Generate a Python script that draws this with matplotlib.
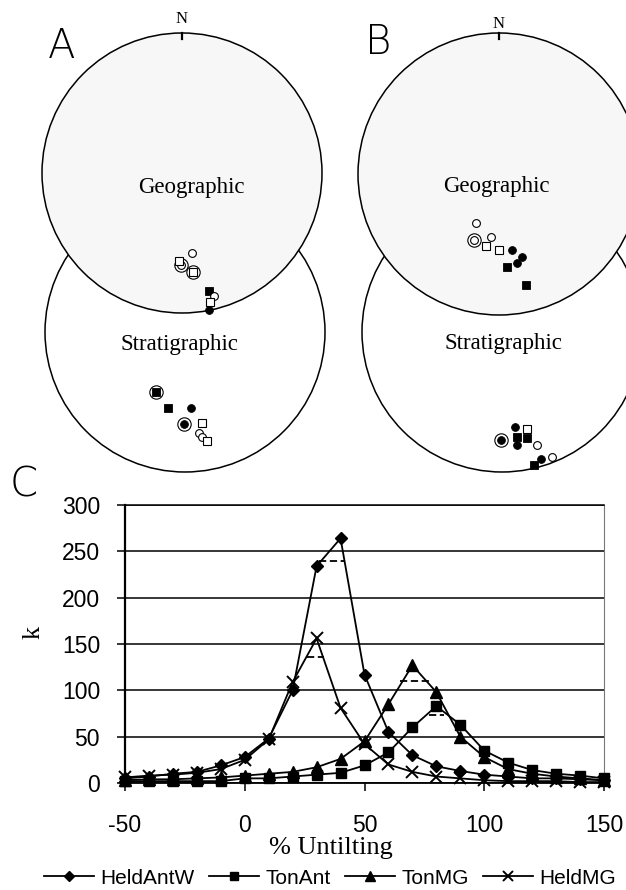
import matplotlib.pyplot as plt
from matplotlib.patches import Circle

plt.rcParams['axes.unicode_minus'] = False

# --- stereonet data (unit-circle coords, y up), symbol codes:
# fc filled circle, oc open circle, fs filled square, os open square, ring = mean ring
A_GEO_X = [0.07, -0.01, -0.01, 0.08, 0.08, -0.02, 0.19, 0.23, 0.20, 0.19]
A_GEO_Y = [-0.57, -0.66, -0.66, -0.71, -0.71, -0.63, -0.84, -0.88, -0.92, -0.98]
A_GEO_SYM = ['oc', 'ring', 'oc', 'ring', 'os', 'os', 'fs', 'oc', 'os', 'fc']

A_STR_X = [-0.21, -0.21, -0.12, 0.04, -0.01, -0.01, 0.12, 0.10, 0.12, 0.16]
A_STR_Y = [-0.43, -0.43, -0.54, -0.54, -0.66, -0.66, -0.65, -0.72, -0.75, -0.78]
A_STR_SYM = ['ring', 'fs', 'fs', 'fc', 'ring', 'fc', 'os', 'oc', 'oc', 'os']

B_GEO_X = [-0.16, -0.18, -0.18, -0.06, -0.09, 0.00, 0.09, 0.16, 0.13, 0.06, 0.19]
B_GEO_Y = [-0.35, -0.47, -0.47, -0.45, -0.51, -0.54, -0.54, -0.59, -0.63, -0.66, -0.79]
B_GEO_SYM = ['oc', 'ring', 'oc', 'oc', 'os', 'os', 'fc', 'fc', 'fc', 'fs', 'fs']

B_STR_X = [-0.01, -0.01, 0.09, 0.18, 0.11, 0.18, 0.11, 0.25, 0.28, 0.36, 0.23]
B_STR_Y = [-0.77, -0.77, -0.68, -0.69, -0.75, -0.76, -0.81, -0.81, -0.91, -0.89, -0.95]
B_STR_SYM = ['ring', 'fc', 'fc', 'os', 'fs', 'fs', 'fc', 'oc', 'fc', 'oc', 'fs']

# --- fold test curves
UNTILT = [-50, -40, -30, -20, -10, 0, 10, 20, 30, 40, 50,
          60, 70, 80, 90, 100, 110, 120, 130, 140, 150]
HELDANTW = [5, 7, 10, 12, 19, 28, 48, 100, 234, 264, 117,
            55, 30, 18, 13, 9, 7, 5, 5, 4, 3]
TONANT = [2, 2, 2, 2, 2, 5, 5, 7, 9, 11, 19,
          33, 60, 83, 63, 35, 22, 14, 10, 8, 5]
TONMG = [3, 4, 4, 5, 6, 8, 10, 12, 17, 26, 45,
         85, 127, 98, 50, 28, 15, 10, 7, 5, 3]
HELDMG = [6, 8, 9, 11, 15, 25, 47, 109, 156, 81, 42,
          20, 12, 7, 5, 3, 2, 2, 2, 1, 1]

# dashed peak levels (x start, x end, k)
PEAK_X0 = [31, 26, 65, 77]
PEAK_X1 = [42, 33, 78, 83]
PEAK_K = [240, 136, 110, 73]

W, H = 626, 890
fig = plt.figure(figsize=(W / 100, H / 100), dpi=100)

SYM_STYLE = {
    'fc': dict(marker='o', mfc='black', mec='black', ms=5.6, mew=0.6),
    'oc': dict(marker='o', mfc='white', mec='black', ms=5.6, mew=0.8),
    'fs': dict(marker='s', mfc='black', mec='black', ms=5.6, mew=0.6),
    'os': dict(marker='s', mfc='white', mec='black', ms=5.6, mew=0.8),
    'ring': dict(marker='o', mfc='white', mec='black', ms=9.6, mew=0.8),
}


def net(cx, cy, r, face, label, lx, ly, xs, ys, syms, north=None):
    ax = fig.add_axes([(cx - r) / W, 1 - (cy + r) / H, 2 * r / W, 2 * r / H])
    ax.set_xlim(-1, 1)
    ax.set_ylim(-1, 1)
    ax.set_axis_off()
    ax.add_patch(Circle((0, 0), 1, facecolor=face, edgecolor='black',
                        linewidth=1.1, clip_on=False))
    ax.text(lx, ly, label, ha='center', va='center', fontsize=16.5,
            family='Liberation Serif')
    if north is not None:
        ax.plot([0, 0], [1, 0.955], color='black', lw=1.6, clip_on=False)
        ax.text(0, north, 'N', ha='center', va='center', fontsize=12,
                family='Liberation Serif')
    # rings first so inner symbols sit on top
    for x, y, s in sorted(zip(xs, ys, syms), key=lambda t: t[2] != 'ring'):
        ax.plot([x], [y], linestyle='none', clip_on=False, **SYM_STYLE[s])
    return ax


# stratigraphic nets behind, geographic on top
net(185, 332, 140, 'white', 'Stratigraphic', -0.04, -0.09, A_STR_X, A_STR_Y, A_STR_SYM)
net(502, 332, 140, 'white', 'Stratigraphic', 0.01, -0.08, B_STR_X, B_STR_Y, B_STR_SYM)
net(182, 173, 140, '#f7f7f7', 'Geographic', 0.065, -0.105, A_GEO_X, A_GEO_Y, A_GEO_SYM, north=1.10)
net(499, 174, 141, '#f7f7f7', 'Geographic', -0.02, -0.09, B_GEO_X, B_GEO_Y, B_GEO_SYM, north=1.065)

# panel letters
for lbl, x, y in [('A', 62, 47), ('B', 378, 42), ('C', 24, 485)]:
    fig.text(x / W, 1 - y / H, lbl, ha='center', va='center', fontsize=29,
             family='DejaVu Sans', fontweight='light')

# --- panel C
ax = fig.add_axes([125 / W, 1 - 783 / H, 479 / W, 278 / H])
series = [
    (HELDANTW, 'HeldAntW', dict(marker='D', ms=6.5)),
    (TONANT, 'TonAnt', dict(marker='s', ms=7)),
    (TONMG, 'TonMG', dict(marker='^', ms=9)),
    (HELDMG, 'HeldMG', dict(marker='x', ms=8, mew=1.4)),
]
handles = []
for vals, name, mk in series:
    ln, = ax.plot(UNTILT, vals, color='black', lw=1.3, mfc='black', mec='black',
                  label=name, clip_on=False, zorder=3, **mk)
    handles.append(ln)

for x0, x1, k in zip(PEAK_X0, PEAK_X1, PEAK_K):
    ax.plot([x0, x1], [k, k], color='black', lw=1.3, ls=(0, (4, 2)), zorder=2)

ax.set_xlim(-50, 150)
ax.set_ylim(0, 300)
ax.set_xticks([-50, 0, 50, 100, 150])
ax.set_yticks([0, 50, 100, 150, 200, 250, 300])
ax.yaxis.grid(True, color='black', lw=1.1)
ax.set_axisbelow(True)
ax.tick_params(axis='both', direction='out', length=6, width=1.1,
               labelsize=16.5, labelfontfamily='Liberation Sans')
ax.tick_params(axis='x', pad=16)
ax.tick_params(axis='y', pad=12)
ax.spines['left'].set_linewidth(1.6)
ax.spines['bottom'].set_linewidth(1.3)
ax.spines['top'].set_color('black')
ax.spines['top'].set_linewidth(1.1)
ax.spines['right'].set_color('#777777')
ax.spines['right'].set_linewidth(0.8)

fig.text(331 / W, 1 - 848 / H, '% Untilting', ha='center', va='center',
         fontsize=19, family='Liberation Serif')
fig.text(34 / W, 1 - 632 / H, 'k', ha='center', va='center', rotation=90,
         fontsize=19, family='Liberation Serif')

fig.legend(handles=handles, loc='center', bbox_to_anchor=(330 / W, 12 / H),
           ncol=4, frameon=False, prop={'family': 'Liberation Sans', 'size': 15},
           handlelength=2.4, handletextpad=0.3, columnspacing=0.7,
           borderpad=0, numpoints=1, markerscale=0.85)

fig.savefig('out.png', dpi=100, facecolor='white')
